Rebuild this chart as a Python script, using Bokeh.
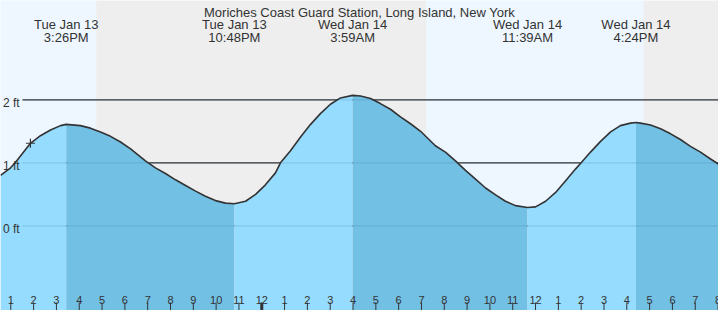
from bokeh.plotting import figure
from bokeh.models import Range1d
from bokeh.core.properties import value
from bokeh.embed import file_html
from bokeh.resources import INLINE

# ---------------- data (hours counted from Tue Jan 13 00:00) ----------------
title_text = "Moriches Coast Guard Station, Long Island, New York"

tide_hours = [12.55, 12.99, 13.21, 13.86, 14.30, 14.74, 15.18, 15.43, 16.05, 16.49,
              16.93, 17.37, 17.81, 18.25, 18.90, 19.34, 19.78, 20.22, 20.66, 21.10,
              21.53, 21.97, 22.41, 22.80, 23.29, 23.73, 24.16, 24.60, 24.82, 25.26,
              25.70, 26.14, 26.57, 27.01, 27.45, 27.98, 28.33, 28.77, 29.20, 29.64,
              30.08, 30.52, 30.96, 31.61, 32.05, 32.49, 32.93, 33.37, 33.81, 34.25,
              34.68, 35.12, 35.65, 36.00, 36.44, 36.88, 37.31, 37.75, 37.97, 38.41,
              38.85, 39.29, 39.72, 40.16, 40.40, 40.60, 41.04, 41.48, 41.92, 42.35,
              42.79, 43.23, 43.67, 44.02]
tide_ft = [0.80, 0.92, 1.01, 1.31, 1.43, 1.52, 1.59, 1.61, 1.59, 1.55,
           1.49, 1.42, 1.33, 1.22, 1.03, 0.92, 0.83, 0.73, 0.64, 0.55,
           0.47, 0.40, 0.36, 0.35, 0.39, 0.50, 0.65, 0.84, 1.00, 1.19,
           1.41, 1.61, 1.78, 1.93, 2.03, 2.07, 2.06, 2.02, 1.94, 1.85,
           1.73, 1.62, 1.50, 1.27, 1.17, 1.03, 0.88, 0.74, 0.60, 0.49,
           0.39, 0.32, 0.29, 0.30, 0.39, 0.53, 0.71, 0.90, 0.99, 1.17,
           1.34, 1.49, 1.59, 1.63, 1.64, 1.63, 1.60, 1.54, 1.46, 1.37,
           1.26, 1.17, 1.06, 0.98]

event_hours = [15.43, 22.80, 27.98, 35.65, 40.40]
event_dates = ["Tue Jan 13", "Tue Jan 13", "Wed Jan 14", "Wed Jan 14", "Wed Jan 14"]
event_times = ["3:26PM", "10:48PM", "3:59AM", "11:39AM", "4:24PM"]

sun_hours = [16.75, 31.22, 40.73]          # sunset, sunrise, sunset
sun_kinds = ["set", "rise", "set"]

level_ft = [0, 1, 2]
level_labels = ["0 ft", "1 ft", "2 ft"]

hour_ticks = list(range(13, 45))
hour_labels = [str(h % 12 if h % 12 else 12) for h in hour_ticks]

now_hour = 13.86
now_ft = 1.31

# ---------------- layout ----------------
W, H = 718, 310
px_per_hr = 22.815
px_per_ft = 63.0
zero_px = 225.3
x_start = 13 - 10.3 / px_per_hr
x_end = x_start + W / px_per_hr
y_start = -(H - zero_px) / px_per_ft
y_end = zero_px / px_per_ft


def ypx(py):
    return (zero_px - py) / px_per_ft


def dx(px):
    return px / px_per_hr


TEXT = "#333333"
FONT = value("Liberation Sans")
DAY_BG = "#eef7ff"
NIGHT_BG = "#eeeeee"
RISE = "#96dcfe"
FALL = "#73c0e5"

p = figure(width=W, height=H, x_range=Range1d(x_start, x_end),
           y_range=Range1d(y_start, y_end), toolbar_location=None,
           output_backend="svg", min_border=0, x_axis_location=None,
           y_axis_location=None, outline_line_color=None,
           background_fill_color=DAY_BG, border_fill_color=DAY_BG)
p.xgrid.visible = False
p.ygrid.visible = False

# day / night bands
edges = [x_start] + sun_hours + [x_end]
kinds = ["day" if sun_kinds[0] == "set" else "night"]
for k in sun_kinds:
    kinds.append("day" if k == "rise" else "night")
left = edges[:-1]
right = edges[1:]
cols = [DAY_BG if k == "day" else NIGHT_BG for k in kinds]
p.quad(left=left, right=right, bottom=[y_start] * len(left), top=[y_end] * len(left),
       fill_color=cols, line_color=None)

# level lines (dark)
gx0 = x_start + dx(22)
p.segment(x0=[gx0] * 3, x1=[x_end] * 3, y0=level_ft, y1=level_ft,
          line_color="#333333", line_width=1.2)

# tide fill, split at highs / lows
bounds = [tide_hours[0]] + event_hours + [tide_hours[-1]]
for i in range(len(bounds) - 1):
    a, b = bounds[i], bounds[i + 1]
    xs = [t for t in tide_hours if a - 1e-9 <= t <= b + 1e-9]
    ys = [v for t, v in zip(tide_hours, tide_ft) if a - 1e-9 <= t <= b + 1e-9]
    rising = ys[-1] > ys[0]
    p.varea(x=xs, y1=[y_start] * len(xs), y2=ys,
            fill_color=RISE if rising else FALL)

# faint level lines over the water
p.segment(x0=[gx0] * 3, x1=[x_end] * 3, y0=level_ft, y1=level_ft,
          line_color="#1a5a80", line_alpha=0.15, line_width=1.2)

# tide curve
p.line(tide_hours, tide_ft, line_color="#333333", line_width=1.6)

# level labels
p.text(x=[x_start + dx(2.5)] * 3, y=[v - 3.5 / px_per_ft for v in level_ft],
       text=level_labels, text_font=FONT, text_font_size="12px",
       text_color=TEXT, text_align="left", text_baseline="alphabetic")

# current-time marker
p.scatter([now_hour], [now_ft], marker="cross", size=9, line_color="#333333",
          line_width=1.2)

# hour ticks
tick_w = [3 if h % 24 == 0 else 1 for h in hour_ticks]
p.segment(x0=hour_ticks, x1=hour_ticks, y0=[y_start] * len(hour_ticks),
          y1=[ypx(302)] * len(hour_ticks), line_color="#333333", line_width=tick_w)
p.text(x=hour_ticks, y=[ypx(299.5)] * len(hour_ticks), text=hour_labels,
       text_font=FONT, text_font_size="11px", text_color=TEXT,
       text_align="center", text_baseline="alphabetic")

# event labels
p.text(x=event_hours, y=[ypx(24)] * len(event_hours), text=event_dates,
       text_font=FONT, text_font_size="13px", text_color=TEXT,
       text_align="center", text_baseline="alphabetic")
p.text(x=event_hours, y=[ypx(36.5)] * len(event_hours), text=event_times,
       text_font=FONT, text_font_size="13px", text_color=TEXT,
       text_align="center", text_baseline="alphabetic")

# title
p.text(x=[(x_start + x_end) / 2], y=[ypx(11.5)], text=[title_text],
       text_font=FONT, text_font_size="13px", text_color=TEXT,
       text_align="center", text_baseline="alphabetic")

open("out.html", "w").write(file_html(p, INLINE))
